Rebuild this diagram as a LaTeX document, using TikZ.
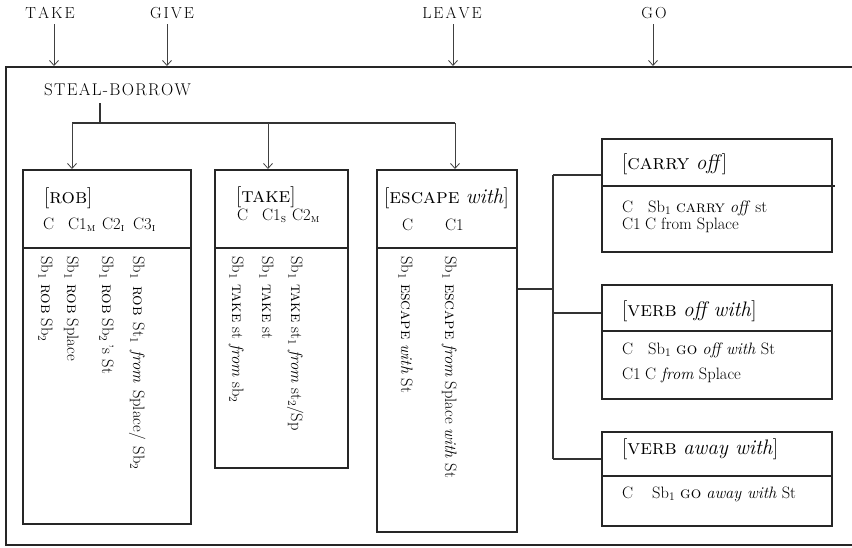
\documentclass[tikz,border=0pt]{standalone}
\usepackage{fontspec}
\usetikzlibrary{arrows.meta}
\newcommand{\sbx}[1]{\textsubscript{#1}}
\newdimen\ltk
\def\ltsp#1#2{\ltk=#1\relax\ltspA#2\relax}
\def\ltspA#1{\ifx#1\relax\else#1\kern\ltk\expandafter\ltspA\fi}
\newcommand{\hsc}[1]{\textsc{#1}}
\newcommand{\bsc}[1]{\textsc{#1}}
\begin{document}
\begin{tikzpicture}[x=1pt,y=-1pt,
  frame/.style={line width=1.8pt, draw=black!85},
  box/.style={draw=black!85, line width=1.6pt, inner sep=0pt, anchor=north west},
  divl/.style={draw=black!85, line width=1.5pt},
  conn/.style={line width=1.2pt, draw=black!80},
  arr/.style={line width=0.8pt, draw=black!75, -{Straight Barb[length=5pt,width=9pt]}},
  lbl/.style={font=\fontsize{16}{16}\selectfont, inner sep=0pt, anchor=base},
  hd/.style={font=\fontsize{21}{21}\selectfont, inner sep=0pt, anchor=base west},
  tx/.style={font=\fontsize{16.5}{16.5}\selectfont, inner sep=0pt, anchor=base west},
  rot/.style={tx, rotate=-90}]
\useasboundingbox (0,0) rectangle (852,547);
\clip (0,0) rectangle (852,547);
% outer frame (right side beyond the picture)
\draw[frame] (880,67) -| (6,545) -- (880,545);
% top labels
\node[lbl] (take) at (51,18) {\ltsp{2pt}{TAKE}};
\node[lbl] (give) at (173,18) {\ltsp{2pt}{GIVE}};
\node[lbl] (leave) at (453,18) {\ltsp{2pt}{LEAVE}};
\node[lbl] (go) at (655,18) {\ltsp{2pt}{GO}};
\foreach \x in {54,167,453,653}
  \draw[arr] (\x,24) -- (\x,66);
% steal-borrow
\node[font=\fontsize{17}{17}\selectfont, inner sep=0pt, anchor=base west] (sb) at (44,95) {\ltsp{1.3pt}{STEAL-BORROW}};
\coordinate (stem) at (100,103);
\coordinate (j0) at (100,123);
\coordinate (j1) at (72,123);
\coordinate (j2) at (268,123);
\coordinate (j3) at (455,123);
% left boxes
\node[box, minimum width=168pt, minimum height=354pt] (rob) at (22,169) {};
\node[box, minimum width=133pt, minimum height=298pt] (tk) at (214,169) {};
\node[box, minimum width=140pt, minimum height=362pt] (esc) at (376,169) {};
\draw[conn] (stem) -- (j0);
\draw[conn] (j1) -- (j3);
\draw[arr] (j1) -- (j1 |- rob.north);
\draw[arr] (j2) -- (j2 |- tk.north);
\draw[arr] (j3) -- (j3 |- esc.north);
\draw[divl] (rob.west |- 0,248) -- (rob.east |- 0,248);
\draw[divl] (tk.west |- 0,248) -- (tk.east |- 0,248);
\draw[divl] (esc.west |- 0,248) -- (esc.east |- 0,248);
% ROB
\node[hd] (robh) at (44,203) {[\hsc{rob}]};
\node[tx] (robc0) at (43,229) {C};
\node[tx] (robc1) at (68,229) {C1\sbx{\textsc{m}}};
\node[tx] (robc2) at (102,229) {C2\sbx{\textsc{i}}};
\node[tx] (robc3) at (133,229) {C3\sbx{\textsc{i}}};
\node[rot] (rob1) at (41,256) {Sb\sbx{1} \bsc{rob} Sb\sbx{2}};
\node[rot] (rob2) at (67,256) {Sb\sbx{1} \bsc{rob} Splace};
\node[rot] (rob3) at (102,256) {Sb\sbx{1} \bsc{rob} Sb\sbx{2}\,’s St};
\node[rot] (rob4) at (133,256) {\spaceskip=7pt Sb\sbx{1} \bsc{rob} St\sbx{1} \textit{from} Splace/ Sb\sbx{2}};
% TAKE
\node[hd] (tkh) at (236,202) {[\hsc{take}]};
\node[tx] (tkc0) at (237,220) {C};
\node[tx] (tkc1) at (262,220) {C1\sbx{\textsc{s}}};
\node[tx] (tkc2) at (292,220) {C2\sbx{\textsc{m}}};
\node[rot] (tk1) at (232,256) {Sb\sbx{1} \bsc{take} st \textit{from} sb\sbx{2}};
\node[rot] (tk2) at (262,256) {Sb\sbx{1} \bsc{take} st};
\node[rot] (tk3) at (291,256) {Sb\sbx{1} \bsc{take} st\sbx{1} \textit{from} st\sbx{2}/Sp};
% ESCAPE
\node[hd] (esch) at (384,203) {[\hsc{escape} \textit{with}]};
\node[tx] (escc0) at (402,230) {C};
\node[tx] (escc1) at (445,230) {C1};
\node[rot] (esc1) at (401,256) {Sb\sbx{1} \bsc{escape} \textit{with} St};
\node[rot] (esc2) at (445,256) {Sb\sbx{1} \bsc{escape} \textit{from} Splace \textit{with} St};
% right boxes
\node[box, minimum width=230pt, minimum height=113pt] (car) at (601,138) {};
\node[box, minimum width=230pt, minimum height=114pt] (vow) at (601,284) {};
\node[box, minimum width=230pt, minimum height=94pt] (vaw) at (601,431) {};
\draw[divl] (car.west |- 0,186) -- (835,186);
\draw[divl] (vow.west |- 0,331) -- (vow.east |- 0,331);
\draw[divl] (vaw.west |- 0,476) -- (vaw.east |- 0,476);
\coordinate (e0) at (553,289);
\coordinate (e1) at (553,175);
\coordinate (e2) at (553,313);
\coordinate (e3) at (553,459);
\draw[conn] (esc.east |- e0) -- (e0);
\draw[conn] (e1) -- (e3);
\draw[conn] (e1) -- (e1 -| car.west);
\draw[conn] (e2) -- (e2 -| vow.west);
\draw[conn] (e3) -- (e3 -| vaw.west);
% CARRY off
\node[hd] (carh) at (622,169) {[\hsc{carry} \textit{off}]};
\node[tx] (carc0) at (622,212) {C};
\node[tx] (cart0) at (648,212) {Sb\sbx{1} \bsc{carry} \textit{off} st};
\node[tx] (carc1) at (622,229) {C1};
\node[tx] (cart1) at (645,229) {C from Splace};
% VERB off with
\node[hd] (vowh) at (622,316) {[\hsc{verb} \textit{off with}]};
\node[tx] (vowc0) at (622,354) {C};
\node[tx] (vowt0) at (648,354) {Sb\sbx{1} \bsc{go} \textit{off with} St};
\node[tx] (vowc1) at (622,379) {C1};
\node[tx] (vowt1) at (645,379) {C \textit{from} Splace};
% VERB away with
\node[hd] (vawh) at (622,454) {[\hsc{verb} \textit{away with}]};
\node[tx] (vawc0) at (622,498) {C};
\node[tx] (vawt0) at (652,498) {Sb\sbx{1} \bsc{go} \textit{away with} St};
\end{tikzpicture}
\end{document}
